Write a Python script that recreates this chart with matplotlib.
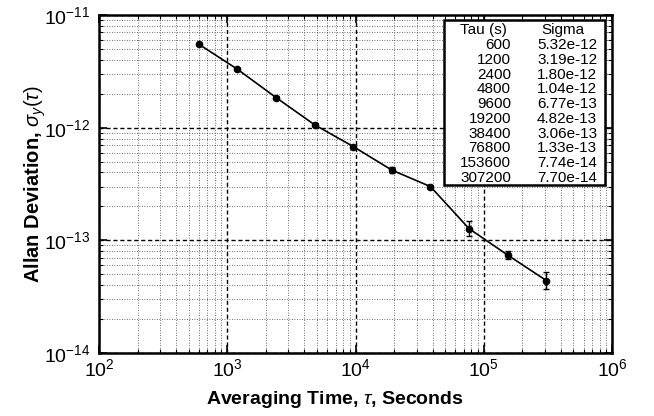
import matplotlib
matplotlib.use('Agg')
import matplotlib.pyplot as plt
from matplotlib.patches import Rectangle
from matplotlib.ticker import NullFormatter
import numpy as np

plt.rcParams['font.family'] = ['Liberation Sans', 'DejaVu Sans']
plt.rcParams['mathtext.fontset'] = 'custom'
plt.rcParams['mathtext.rm'] = 'Liberation Sans'
plt.rcParams['mathtext.it'] = 'Liberation Sans:italic'
plt.rcParams['mathtext.bf'] = 'Liberation Sans:bold'

# plotted points
tau = [600, 1200, 2400, 4800, 9600, 19200, 38400, 76800, 153600, 307200]
sigma = [5.5e-12, 3.3e-12, 1.85e-12, 1.06e-12, 6.8e-13, 4.2e-13, 3.0e-13, 1.27e-13, 7.4e-14, 4.4e-14]
err_dec = [0.01, 0.01, 0.01, 0.012, 0.015, 0.03, 0.015, 0.065, 0.035, 0.075]

# table text
tab_tau = ['600', '1200', '2400', '4800', '9600', '19200', '38400', '76800', '153600', '307200']
tab_sigma = ['5.32e-12', '3.19e-12', '1.80e-12', '1.04e-12', '6.77e-13', '4.82e-13',
             '3.06e-13', '1.33e-13', '7.74e-14', '7.70e-14']

fig = plt.figure(figsize=(6.54, 4.16), dpi=100)
ax = fig.add_axes([0.1514, 0.1514, 0.7844, 0.8126])

s = np.array(sigma)
e = np.array(err_dec)
lo = s - s / 10**e
hi = s * 10**e - s
ax.errorbar(tau, sigma, yerr=[lo, hi], color='black', marker='o', ms=4.5,
            lw=1.2, capsize=2.5, elinewidth=1, zorder=5)

ax.set_xscale('log')
ax.set_yscale('log')
ax.set_xlim(1e2, 1e6)
ax.set_ylim(1e-14, 1e-11)
ax.xaxis.set_minor_formatter(NullFormatter())
ax.yaxis.set_minor_formatter(NullFormatter())

ax.grid(True, which='major', color='black', linestyle=(0, (3, 2)), lw=1.0)
ax.grid(True, which='minor', color='black', linestyle=(0, (1, 2)), lw=0.6, alpha=0.75)
ax.tick_params(which='both', direction='in', top=True, right=True, labelsize=14)
ax.tick_params(which='major', length=6, width=1.2)
ax.tick_params(axis='y', which='major', pad=6)
ax.tick_params(axis='x', which='major', pad=4)
ax.tick_params(which='minor', length=3, width=0.8)
for sp in ax.spines.values():
    sp.set_linewidth(1.8)

ax.set_xlabel(r'Averaging Time, $\tau$, Seconds', fontsize=14, fontweight='bold')
ax.set_ylabel(r'Allan Deviation, $\sigma_y(\tau)$', fontsize=14.5, fontweight='bold')
ax.xaxis.set_label_coords(0.46, -0.105)
ax.yaxis.set_label_coords(-0.10, 0.5)

# table box
ax.add_patch(Rectangle((0.6725, 0.497), 0.314, 0.488, transform=ax.transAxes,
                       facecolor='white', edgecolor='black', lw=1.8, zorder=10))
ax.text(0.749, 0.956, 'Tau (s)', transform=ax.transAxes, ha='center', va='center',
        fontsize=11, zorder=11)
ax.text(0.905, 0.956, 'Sigma', transform=ax.transAxes, ha='center', va='center',
        fontsize=11, zorder=11)
for i in range(len(tab_tau)):
    yy = 0.911 - i * 0.0437
    ax.text(0.803, yy, tab_tau[i], transform=ax.transAxes, ha='right', va='center',
            fontsize=11, zorder=11)
    ax.text(0.971, yy, tab_sigma[i], transform=ax.transAxes, ha='right', va='center',
            fontsize=11, zorder=11)

fig.savefig('out.png', dpi=100)
